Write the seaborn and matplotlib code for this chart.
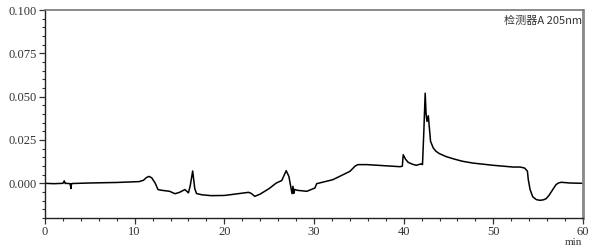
import matplotlib
matplotlib.use("Agg")
import matplotlib.pyplot as plt
import seaborn as sns
import pandas as pd
from matplotlib.ticker import MultipleLocator, FormatStrFormatter

# retention time (min)
time_min = [0.0, 1.0, 2.0, 2.15, 2.25, 2.35, 2.8, 2.9, 2.95, 3.05, 5.0, 8.0, 10.5,
            11.0, 11.3, 11.6, 11.9, 12.3, 12.6, 13.0, 13.9, 14.5, 15.0, 15.6, 16.0, 16.2,
            16.47, 16.7, 16.9, 17.5, 18.5, 20.0, 22.7, 23.0, 23.4, 24.0, 25.0, 25.8,
            26.4, 26.9, 27.2, 27.55, 27.65, 27.75, 27.85, 28.1, 29.2, 30.1, 30.3,
            32.1, 34.0, 34.6, 34.9, 35.9, 39.6, 39.85, 39.95, 40.2, 40.5, 41.0, 41.4, 42.0,
            42.1, 42.25, 42.4, 42.5, 42.6, 42.75, 42.85, 43.0, 43.3, 43.6, 44.0, 44.7, 45.5,
            46.5, 47.7, 50.0, 52.2, 53.0, 53.5, 53.8, 53.9, 54.1, 54.4, 54.8, 55.2, 55.6,
            55.9, 56.2, 56.5, 57.0, 57.3, 57.6, 58.5, 60.0]
# detector signal
signal = [0.0000, -0.0002, 0.0000, 0.0014, -0.0001, 0.0000, -0.0002, -0.0030, -0.0002, -0.0001,
          0.0002, 0.0005, 0.0010, 0.0018, 0.0033, 0.0040, 0.0032, 0.0000, -0.0036, -0.0040,
          -0.0046, -0.0060, -0.0052, -0.0036, -0.0055, -0.0013, 0.0071, -0.0030,
          -0.0059, -0.0066, -0.0071, -0.0070, -0.0052, -0.0058, -0.0075, -0.0062,
          -0.0030, 0.0002, 0.0016, 0.0073, 0.0040, -0.0060, -0.0017, -0.0058,
          -0.0035, -0.0040, -0.0046, -0.0027, -0.0002, 0.0021, 0.0069, 0.0100, 0.0108,
          0.0108, 0.0096, 0.0099, 0.0165, 0.0140, 0.0121, 0.0110, 0.0104, 0.0113, 0.0108,
          0.0300, 0.0520, 0.0400, 0.0357, 0.0390, 0.0330, 0.0242, 0.0204, 0.0185, 0.0171,
          0.0155, 0.0142, 0.0128, 0.0117, 0.0104, 0.0094, 0.0094, 0.0088, 0.0070, 0.0021,
          -0.0036, -0.0078, -0.0094, -0.0098, -0.0095, -0.0088, -0.0070, -0.0046, -0.0007,
          0.0003, 0.0006, 0.0002, 0.0000]

y_ticks = [0.000, 0.025, 0.050, 0.075, 0.100]
x_ticks = [0, 10, 20, 30, 40, 50, 60]
detector_label = "检测器A 205nm"
x_unit = "min"

df = pd.DataFrame({"t": time_min, "v": signal})

sns.set_style("white")
plt.rcParams["font.family"] = ["Liberation Serif", "Noto Sans CJK SC", "DejaVu Sans"]

fig = plt.figure(figsize=(5.96, 2.48), dpi=100)
ax = fig.add_axes([45/596, 1-218/248, (583-45)/596, (218-10)/248])

sns.lineplot(data=df, x="t", y="v", ax=ax, color="black", linewidth=1.1,
             sort=False, estimator=None)

ax.set_xlim(0, 60)
ax.set_ylim(-0.02, 0.1)
ax.set_xticks(x_ticks)
ax.set_yticks(y_ticks)
ax.xaxis.set_minor_locator(MultipleLocator(2))
ax.yaxis.set_minor_locator(MultipleLocator(0.005))
ax.yaxis.set_major_formatter(FormatStrFormatter("%.3f"))
ax.set_xlabel("")
ax.set_ylabel("")

ax.tick_params(axis="both", which="major", direction="out", length=4, width=0.9,
               labelsize=9, colors="#333333", left=True, bottom=True, pad=2)
ax.tick_params(axis="both", which="minor", direction="out", length=2, width=0.8,
               colors="#333333", left=True, bottom=True)

for side in ["left", "bottom"]:
    ax.spines[side].set_color("#222222")
    ax.spines[side].set_linewidth(1.0)
ax.spines["top"].set_color("#777777")
ax.spines["top"].set_linewidth(1.2)
ax.spines["right"].set_color("#888888")
ax.spines["right"].set_linewidth(2.0)

ax.text(0.999, 0.97, detector_label, transform=ax.transAxes, ha="right", va="top",
        fontsize=8, color="#333333", family=["Noto Sans CJK SC", "DejaVu Sans"])
fig.text(573/596, 1/248, x_unit, ha="center", va="bottom", fontsize=8,
         color="#333333")

fig.savefig("out.png", dpi=100)
